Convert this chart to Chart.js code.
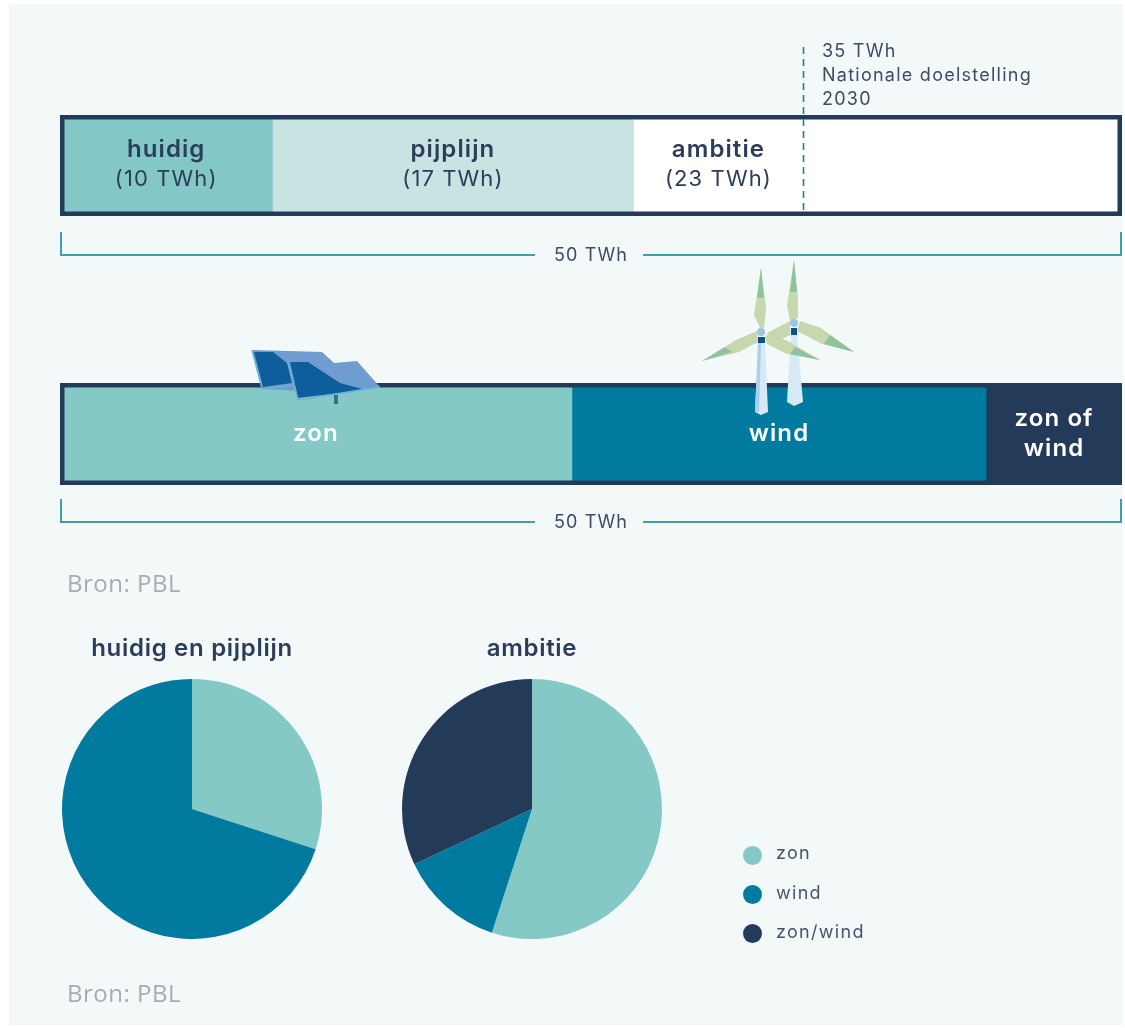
<!DOCTYPE html>
<html>
<head>
<meta charset="utf-8">
<title>Hernieuwbare energie op land</title>
<script src="https://cdn.jsdelivr.net/npm/chart.js@4"></script>
<style>
  html, body { margin:0; padding:0; background:#fff; }
  #page { position:relative; width:1125px; height:1028px; overflow:hidden; font-family:Inter, "Noto Sans", sans-serif; color:#2b3d58; }
  #panel { position:absolute; left:9px; top:4px; width:1114px; height:1021px; background:#f3f8f9; }
  canvas { position:absolute; }
  .txt { position:absolute; white-space:nowrap; }
  .bron { font-family:"Open Sans", sans-serif; font-size:24px; color:#a8acb0; left:67px; letter-spacing:.5px; }
  .pie-title { font-size:24px; font-weight:600; width:300px; text-align:center; letter-spacing:.7px; }
  .goal { left:822px; font-size:18px; color:#3d4c64; letter-spacing:1.25px; }
  .legend-dot { position:absolute; left:743px; width:19px; height:19px; border-radius:50%; }
  .legend-txt { left:776px; font-size:18px; color:#47556b; letter-spacing:1.3px; }
  #icons { position:absolute; left:0; top:0; }
</style>
</head>
<body>
<div id="page">
  <div id="panel"></div>

  <canvas id="topBar" width="1075" height="225" style="left:50px;top:40px"></canvas>
  <canvas id="bottomBar" width="1075" height="155" style="left:50px;top:375px"></canvas>
  <canvas id="pieNow" width="260" height="260" style="left:62px;top:679px"></canvas>
  <canvas id="pieAmbition" width="260" height="260" style="left:402px;top:679px"></canvas>

  <!-- illustraties boven de balk -->
  <svg id="icons" width="1125" height="1028">
    <!-- zonnepanelen -->
    <polygon points="252,350 322,352 334,363 357,361 380,387 340,393 263,389" fill="#6f9dcf"/>
    <polygon points="254,352 273,352 287,363 292,383 263,387" fill="#0e5e9b"/>
    <polyline points="252,350 262,389 292,385" fill="none" stroke="#6fb0d6" stroke-width="1.5"/>
    <polygon points="290,362 308,362 340,383 362,389 340,393 298,398" fill="#0e5e9b"/>
    <polyline points="288,361 298,400 380,387" fill="none" stroke="#6fb0d6" stroke-width="1.5"/>
    <rect x="334" y="395" width="4" height="9" fill="#35708f"/>
    <!-- turbine achter -->
    <polygon points="791,333 797,333 803,402 794,406 787,402" fill="#d6e9f4"/>
    <polygon points="794,260 798,298 798,318 790,321 787,305" fill="#c5d8ae"/>
    <polygon points="794,260 797,292 790,292" fill="#8fc29f"/>
    <polygon points="800,321 821,328 854,352 822,344 797,331" fill="#c5d8ae"/>
    <polygon points="830,335 854,352 824,344" fill="#8fc29f"/>
    <polygon points="790,321 767,333 770,345 790,335" fill="#c5d8ae"/>
    <rect x="791" y="328" width="6" height="7" fill="#0e4f85"/>
    <circle cx="794" cy="323" r="4" fill="#9cc6e0"/>
    <!-- turbine voor -->
    <polygon points="758,343 765,343 768,412 761,415 755,412" fill="#d6e9f4"/>
    <polygon points="758,343 761,343 759,412 755,412" fill="#a9d0e8"/>
    <polygon points="761,268 766,308 764,328 760,328 754,315" fill="#c5d8ae"/>
    <polygon points="761,268 764,298 757,298" fill="#8fc29f"/>
    <polygon points="757,331 736,340 702,361 739,352 758,342" fill="#c5d8ae"/>
    <polygon points="725,347 702,361 732,352" fill="#8fc29f"/>
    <polygon points="765,335 786,340 820,360 787,354 767,344" fill="#c5d8ae"/>
    <polygon points="795,347 820,360 790,354" fill="#8fc29f"/>
    <rect x="758" y="337" width="7" height="6" fill="#0e4f85"/>
    <circle cx="761" cy="332" r="4" fill="#9cc6e0"/>
  </svg>

  <div class="txt goal" style="top:40px">35 TWh</div>
  <div class="txt goal" style="top:64px">Nationale doelstelling</div>
  <div class="txt goal" style="top:88px">2030</div>

  <div class="txt bron" style="top:566px">Bron: PBL</div>
  <div class="txt bron" style="top:976px">Bron: PBL</div>

  <div class="txt pie-title" style="left:42px;top:633px">huidig en pijplijn</div>
  <div class="txt pie-title" style="left:382px;top:633px">ambitie</div>

  <div id="legend"></div>
</div>

<script>
// Bovenste balk (TWh)
const planLabels  = ['huidig', 'pijplijn', 'ambitie'];
const planValues  = [10, 17, 23];
const planColors  = ['#83c8c6', '#c7e3e2', '#ffffff'];
const targetValue = 35;
const totalTwh    = 50;

// Onderste balk (TWh)
const sourceLabels = ['zon', 'wind', 'zon of wind'];
const sourceValues = [24.1, 19.5, 6.4];

// Taartdiagrammen (%)
const pieCategories = ['zon', 'wind', 'zon/wind'];
const pieColors     = ['#84c9c6', '#007a9e', '#233a59'];
const nowShares     = [30, 70, 0];
const ambitionShares = [55, 13, 32];

const NAVY = '#233a59';
const TEAL_LINE = '#3f9fb0';

// balk + kader + accolade met totaal
const barExtras = {
  id: 'barExtras',
  afterDraw(chart, args, opts) {
    const { ctx, chartArea: a, scales: { x } } = chart;
    ctx.save();

    ctx.strokeStyle = NAVY;
    ctx.lineWidth = 4.5;
    ctx.strokeRect(a.left + 2.25, a.top + 2.25, a.width - 4.5, a.height - 4.5);

    if (opts.target != null) {
      const tx = Math.round(x.getPixelForValue(opts.target)) + .5;
      ctx.strokeStyle = '#1e7f9c';
      ctx.lineWidth = 1.6;
      ctx.setLineDash([7, 5]);
      ctx.beginPath();
      ctx.moveTo(tx, a.top - 68);
      ctx.lineTo(tx, a.bottom - 3);
      ctx.stroke();
      ctx.setLineDash([]);
    }

    // accolade
    const by = a.bottom + opts.bracketGap;
    const mid = x.getPixelForValue(totalTwh / 2);
    ctx.strokeStyle = TEAL_LINE;
    ctx.lineWidth = 2;
    ctx.beginPath();
    ctx.moveTo(a.left + 1, by - 23);
    ctx.lineTo(a.left + 1, by);
    ctx.lineTo(mid - 56, by);
    ctx.moveTo(mid + 52, by);
    ctx.lineTo(a.right - 1, by);
    ctx.lineTo(a.right - 1, by - 23);
    ctx.stroke();
    ctx.fillStyle = '#3d4c64';
    ctx.font = '18px Inter';
    ctx.letterSpacing = '1.1px';
    ctx.textAlign = 'center';
    ctx.textBaseline = 'middle';
    ctx.fillText(totalTwh + ' TWh', mid, by + 1);

    // labels in de segmenten
    let start = 0;
    const cy = (a.top + a.bottom) / 2;
    chart.data.datasets.forEach(ds => {
      const end = start + ds.data[0];
      const stop = opts.target != null && end > opts.target ? opts.target : end;
      const cx = x.getPixelForValue((start + stop) / 2);
      ctx.fillStyle = opts.textColor;
      opts.lines(ds).forEach((l, i, all) => {
        ctx.font = l.font;
        ctx.letterSpacing = l.spacing;
        ctx.fillText(l.text, cx, cy + (i - (all.length - 1) / 2) * opts.lineGap + opts.dy);
      });
      start = end;
    });
    ctx.restore();
  },
};

function barChart(id, datasets, padding, extras) {
  return new Chart(document.getElementById(id), {
    type: 'bar',
    data: { labels: ['TWh'], datasets },
    plugins: [barExtras],
    options: {
      indexAxis: 'y',
      responsive: false,
      animation: false,
      layout: { padding },
      scales: {
        x: { display: false, stacked: true, min: 0, max: totalTwh },
        y: { display: false, stacked: true },
      },
      plugins: { legend: { display: false }, tooltip: { enabled: false }, barExtras: extras },
    },
  });
}

const boldLine = text => ({ text, font: '600 24px Inter', spacing: '1.1px' });

barChart('topBar',
  planLabels.map((l, i) => ({
    label: l, data: [planValues[i]], backgroundColor: planColors[i],
    barPercentage: 1, categoryPercentage: 1, borderWidth: 0,
  })),
  { left: 10, right: 3, top: 75, bottom: 49 },
  {
    target: targetValue,
    textColor: '#2b3d58',
    lineGap: 29,
    dy: -1,
    bracketGap: 39,
    lines: ds => [
      boldLine(ds.label),
      { text: '(' + ds.data[0] + ' TWh)', font: '400 22px Inter', spacing: '1.1px' },
    ],
  });

barChart('bottomBar',
  sourceLabels.map((l, i) => ({
    label: l, data: [sourceValues[i]], backgroundColor: pieColors[i],
    barPercentage: 1, categoryPercentage: 1, borderWidth: 0,
  })),
  { left: 10, right: 3, top: 8, bottom: 45 },
  {
    textColor: '#ffffff',
    lineGap: 30,
    dy: 0,
    bracketGap: 37,
    lines: ds => ds.label === 'zon of wind'
      ? [boldLine('zon of'), boldLine('wind')]
      : [boldLine(ds.label)],
  });

function pieChart(id, values) {
  return new Chart(document.getElementById(id), {
    type: 'pie',
    data: {
      labels: pieCategories,
      datasets: [{ data: values, backgroundColor: pieColors, borderWidth: 0 }],
    },
    options: {
      responsive: false,
      animation: false,
      plugins: { legend: { display: false }, tooltip: { enabled: false } },
    },
  });
}
pieChart('pieNow', nowShares);
pieChart('pieAmbition', ambitionShares);

// legenda
const legend = document.getElementById('legend');
pieCategories.forEach((c, i) => {
  const dot = document.createElement('div');
  dot.className = 'legend-dot';
  dot.style.top = (846 + i * 39) + 'px';
  dot.style.background = pieColors[i];
  const t = document.createElement('div');
  t.className = 'txt legend-txt';
  t.style.top = (842 + i * 39.5) + 'px';
  t.textContent = c;
  legend.append(dot, t);
});
</script>
</body>
</html>
